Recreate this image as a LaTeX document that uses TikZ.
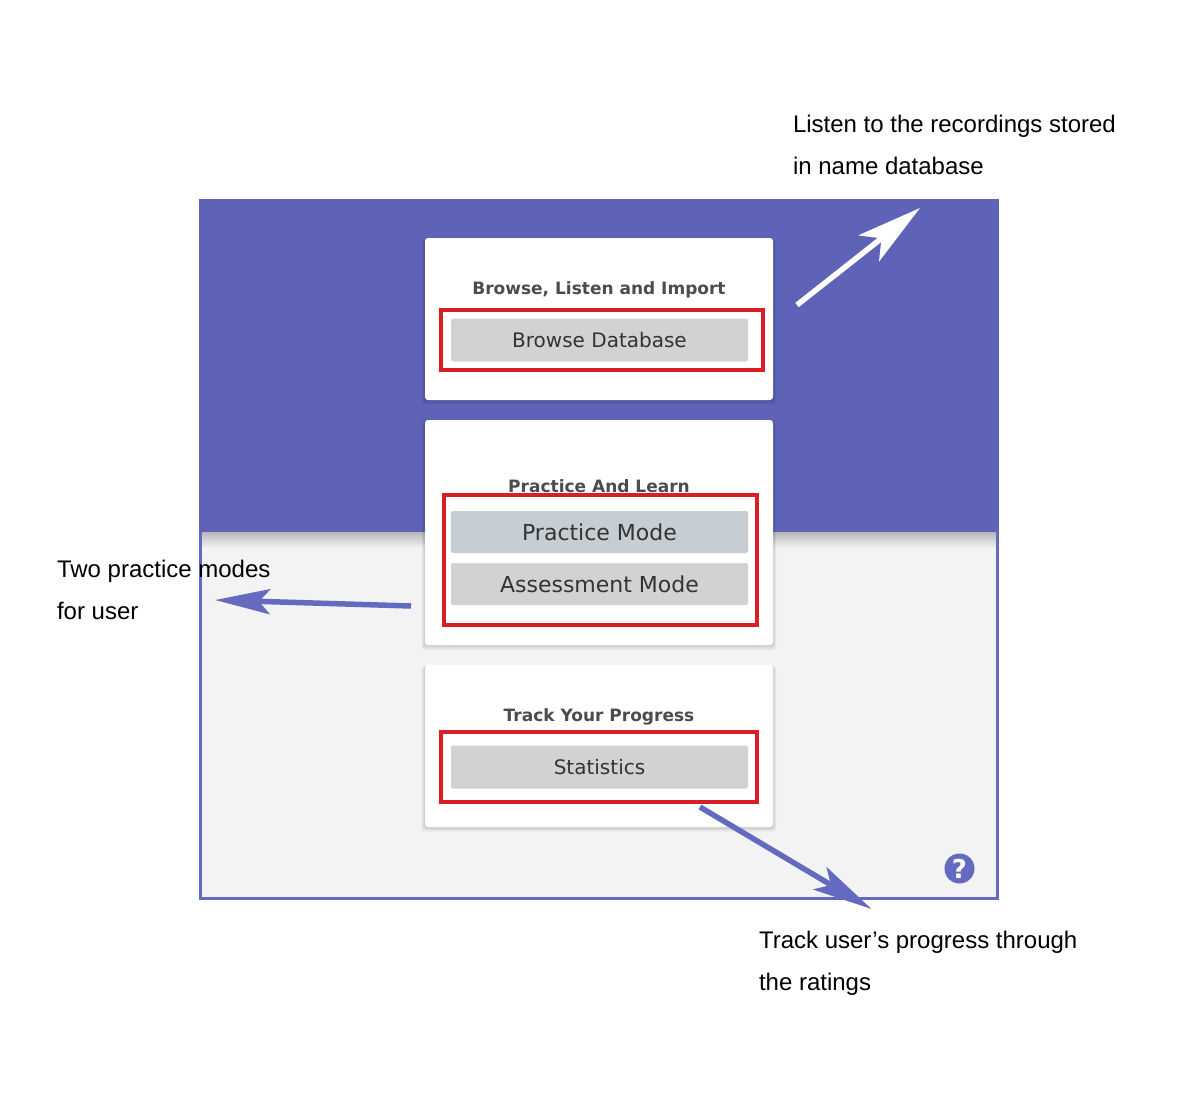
\documentclass[tikz,border=0pt]{standalone}
\usepackage{fontspec}
\setmainfont{Liberation Sans}
\newfontfamily\uifont{DejaVu Sans}
\usetikzlibrary{arrows.meta,shadows}
\definecolor{headblue}{HTML}{5F63B8}
\definecolor{lineblue}{HTML}{636ABF}
\definecolor{pagegray}{HTML}{F3F3F3}
\definecolor{btngray}{HTML}{D2D2D2}
\definecolor{btnblue}{HTML}{C6CDD3}
\definecolor{markred}{HTML}{D81F26}
\tikzset{
  softshadow/.style={general shadow={fill=black,opacity=.05,shadow xshift=0pt,shadow yshift=-#1*1pt,shadow scale=1+#1*0.006}},
  card/.style={fill=white,rounded corners=3pt,minimum width=348pt,inner sep=0pt,outer sep=0pt,
    softshadow=3,softshadow=2,softshadow=1},
  cardtitle/.style={font=\uifont\bfseries\fontsize{17}{20}\selectfont,text=black!70,anchor=base},
  button/.style={fill=btngray,rounded corners=2pt,minimum width=297pt,inner sep=0pt,outer sep=0pt,
    text=black!80,font=\uifont\fontsize{20}{24}\selectfont},
  bigbutton/.style={button,font=\uifont\fontsize{22}{26}\selectfont},
  markbox/.style={draw=markred,line width=4pt,inner sep=0pt,outer sep=0pt},
  note/.style={font=\fontsize{24}{42}\selectfont,align=left,anchor=north west,inner sep=0pt,outer sep=0pt,text=black},
}
\begin{document}
\begin{tikzpicture}[x=1pt,y=-1pt]
    \useasboundingbox (0,0) rectangle (1200,1100);
    % panel
    \fill[pagegray] (199,199) rectangle (999,900);
    \shade[top color=black!28,bottom color=pagegray] (201,532) rectangle (997,548);
    \fill[headblue] (199,199) rectangle (999,532);
    \draw[lineblue,line width=3pt] (200.5,532) -- (200.5,898.5) -- (997.5,898.5) -- (997.5,532);
    % cards
    \node[card,minimum height=162pt] (browsecard) at (599,319) {};
    \node[card,minimum height=225pt] (practicecard) at (599,532.5) {};
    \node[card,minimum height=162pt] (trackcard) at (599,746) {};
    \node[cardtitle] (browsetitle) at (599,294) {Browse, Listen and Import};
    \node[cardtitle] (practicetitle) at (599,492) {Practice And Learn};
    \node[cardtitle] (tracktitle) at (599,721) {Track Your Progress};
    % buttons
    \node[button,minimum height=43pt] (browsebtn) at (599.5,340) {Browse Database};
    \node[bigbutton,minimum height=42pt,fill=btnblue] (practicebtn) at (599.5,532) {Practice Mode};
    \node[bigbutton,minimum height=42pt] (assessbtn) at (599.5,584) {Assessment Mode};
    \node[button,minimum height=43pt] (statsbtn) at (599.5,767) {Statistics};
    % red marks
    \node[markbox,minimum width=322pt,minimum height=60pt] (browsemark) at (602,340) {};
    \node[markbox,minimum width=313pt,minimum height=130pt] (practicemark) at (600.5,560) {};
    \node[markbox,minimum width=316pt,minimum height=70pt] (statsmark) at (599,767) {};
    % help icon
    \node[circle,fill=lineblue,minimum size=30pt,inner sep=0pt,text=white,font=\uifont\bfseries\fontsize{26}{28}\selectfont] (helpicon) at (959.5,868.5) {?};
    % notes
    \node[note] (listennote) at (793,115) {Listen to the recordings stored\\in name database};
    \node[note] (modesnote) at (57,560) {Two practice modes\\for user};
    \node[note] (tracknote) at (759,931) {Track user’s progress through\\the ratings};
    % arrows
    \coordinate (listenstart) at (797,305);
    \coordinate (listenend) at (920,208);
    \coordinate (modesstart) at (411,606);
    \coordinate (modesend) at (215,600);
    \coordinate (trackstart) at (700,807);
    \coordinate (trackend) at (871.5,909);
    \draw[white,line width=5.5pt,-{Stealth[length=65pt,width=33pt,inset=16pt]}] (listenstart) -- (listenend);
    \draw[lineblue,line width=5.5pt,-{Stealth[length=55pt,width=25pt,inset=11pt]}] (modesstart) -- (modesend);
    \draw[lineblue,line width=5.5pt,-{Stealth[length=60pt,width=26pt,inset=13pt]}] (trackstart) -- (trackend);
\end{tikzpicture}
\end{document}
